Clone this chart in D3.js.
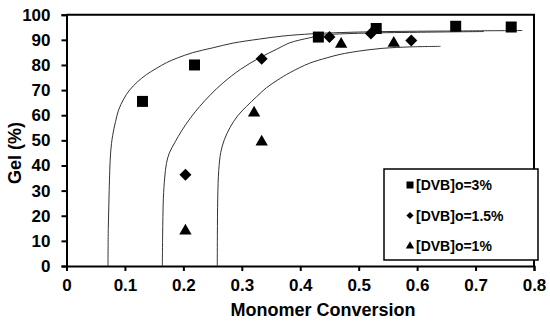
<!DOCTYPE html>
<html>
<head>
<meta charset="utf-8">
<script src="https://cdn.jsdelivr.net/npm/d3@7"></script>
<style>
  body { margin: 0; background: #fff; }
  text { font-family: "Liberation Sans", Arial, sans-serif; font-weight: bold; fill: #000; }
</style>
</head>
<body>
<script>
// measured points
var dvb3X = [0.130, 0.219, 0.431, 0.530, 0.666, 0.761];
var dvb3Y = [65.5, 80.0, 91.1, 94.5, 95.4, 95.1];
var dvb15X = [0.2035, 0.334, 0.450, 0.521, 0.590];
var dvb15Y = [36.3, 82.5, 91.1, 92.5, 89.7];
var dvb1X = [0.2035, 0.321, 0.334, 0.470, 0.560];
var dvb1Y = [14.0, 60.9, 49.4, 88.3, 88.7];

// model curves
var fit3X = [0.071, 0.0715, 0.073, 0.0755, 0.079, 0.084, 0.089, 0.098, 0.108, 0.121, 0.137, 0.155, 0.171, 0.19, 0.216, 0.25, 0.285, 0.33, 0.37, 0.42, 0.47, 0.55, 0.65, 0.78];
var fit3Y = [0, 15, 30, 45, 52, 57.5, 62, 66.5, 70, 73.2, 76.2, 78.8, 80.9, 82.8, 84.9, 86.8, 88.7, 90.3, 91.5, 92.4, 92.9, 93.3, 93.5, 93.7];
var fit15X = [0.164, 0.1645, 0.1658, 0.168, 0.171, 0.176, 0.186, 0.197, 0.213, 0.228, 0.247, 0.268, 0.298, 0.33, 0.36, 0.382, 0.416, 0.44, 0.5, 0.6, 0.714];
var fit15Y = [0, 12, 27, 35, 40.8, 45, 49.4, 53.8, 59.2, 63.5, 68.3, 72.9, 78.3, 82.8, 86.3, 88.8, 90.8, 91.9, 92.6, 93.0, 93.3];
var fit1X = [0.258, 0.2582, 0.2588, 0.2605, 0.264, 0.27, 0.28, 0.293, 0.308, 0.325, 0.342, 0.362, 0.382, 0.416, 0.445, 0.468, 0.5, 0.54, 0.59, 0.64];
var fit1Y = [0, 12, 27, 38, 45.2, 50.2, 55.2, 59.8, 63.5, 67.3, 70.9, 74.1, 76.9, 80.7, 82.8, 84.2, 85.5, 86.6, 87.2, 87.4];

var legendNames = ["[DVB]o=3%", "[DVB]o=1.5%", "[DVB]o=1%"];
var xTicks = [0, 0.1, 0.2, 0.3, 0.4, 0.5, 0.6, 0.7, 0.8];
var yTicks = [0, 10, 20, 30, 40, 50, 60, 70, 80, 90, 100];

var W = 550, H = 325;
var margin = {top: 14.7, right: 16, bottom: 59, left: 66.5};

var x = d3.scaleLinear().domain([0, 0.8]).range([margin.left, W - margin.right]);
var y = d3.scaleLinear().domain([0, 100]).range([H - margin.bottom, margin.top]);

var svg = d3.select("body").append("svg")
    .attr("width", W)
    .attr("height", H);

// frame (top and right)
svg.append("path")
    .attr("d", "M" + x(0) + "," + y(100) + "H" + x(0.8) + "V" + y(0))
    .attr("fill", "none")
    .attr("stroke", "#000")
    .attr("stroke-width", 2);

var xAxis = svg.append("g")
    .attr("transform", "translate(0," + y(0) + ")")
    .call(d3.axisBottom(x).tickValues(xTicks).tickSize(5).tickPadding(8)
        .tickFormat(function(d) { return d === 0 ? "0" : d3.format(".1f")(d); }));

var yAxis = svg.append("g")
    .attr("transform", "translate(" + x(0) + ",0)")
    .call(d3.axisLeft(y).tickValues(yTicks).tickSize(5).tickPadding(11));

[xAxis, yAxis].forEach(function(g) {
    g.select(".domain").attr("stroke-width", 2).attr("stroke", "#000");
    g.selectAll(".tick line").attr("stroke-width", 2).attr("stroke", "#000");
    g.selectAll(".tick text")
        .attr("font-size", "17px")
        .attr("font-family", "'Liberation Sans', Arial, sans-serif")
        .attr("font-weight", "bold")
        .attr("fill", "#000");
});

svg.append("text")
    .attr("x", 323)
    .attr("y", 316)
    .attr("text-anchor", "middle")
    .attr("font-size", "18px")
    .text("Monomer Conversion");

svg.append("text")
    .attr("transform", "translate(21,153) rotate(-90)")
    .attr("text-anchor", "middle")
    .attr("font-size", "18px")
    .text("Gel (%)");

// fitted curves
var line = d3.line()
    .x(function(d) { return x(d[0]); })
    .y(function(d) { return y(d[1]); })
    .curve(d3.curveCatmullRom.alpha(0.5));

[[fit3X, fit3Y], [fit15X, fit15Y], [fit1X, fit1Y]].forEach(function(c) {
    svg.append("path")
        .datum(d3.zip(c[0], c[1]))
        .attr("d", line)
        .attr("fill", "none")
        .attr("stroke", "#333")
        .attr("stroke-width", 1);
});

// markers
var shapes = [
    {sx: dvb3X, sy: dvb3Y, type: d3.symbolSquare, size: 121, rot: 0, lsize: 49},
    {sx: dvb15X, sy: dvb15Y, type: d3.symbolSquare, size: 72, rot: 45, lsize: 26},
    {sx: dvb1X, sy: dvb1Y, type: d3.symbolTriangle, size: 66, rot: 0, lsize: 30}
];

shapes.forEach(function(s) {
    svg.append("g").selectAll("path")
        .data(d3.zip(s.sx, s.sy))
        .enter().append("path")
        .attr("d", d3.symbol().type(s.type).size(s.size))
        .attr("transform", function(d) {
            return "translate(" + x(d[0]) + "," + y(d[1]) + ") rotate(" + s.rot + ")";
        })
        .attr("fill", "#000");
});

// legend
var lg = svg.append("g").attr("transform", "translate(384,169)");
lg.append("rect")
    .attr("width", 154)
    .attr("height", 91)
    .attr("fill", "#fff")
    .attr("stroke", "#000")
    .attr("stroke-width", 1.5);

shapes.forEach(function(s, i) {
    var row = lg.append("g").attr("transform", "translate(0," + (16 + i * 30.5) + ")");
    row.append("path")
        .attr("d", d3.symbol().type(s.type).size(s.lsize))
        .attr("transform", "translate(26,0) rotate(" + s.rot + ")")
        .attr("fill", "#000");
    row.append("text")
        .attr("x", 32)
        .attr("y", 5)
        .attr("font-size", "14px")
        .text(legendNames[i]);
});
</script>
</body>
</html>
